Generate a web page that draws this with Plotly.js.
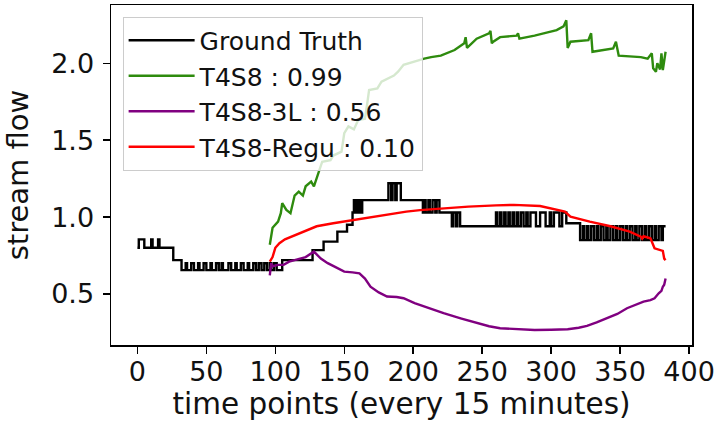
<!DOCTYPE html>
<html>
<head>
<meta charset="utf-8">
<script src="https://cdn.plot.ly/plotly-3.0.1.min.js"></script>
<style>
  html, body { margin: 0; padding: 0; background: #fff; }
  #chart { width: 720px; height: 429px; }
</style>
</head>
<body>
<div id="chart"></div>
<script>
// Observed stream flow (step changes, time index every 15 minutes)
const gtT = [0, 1, 5, 10, 11, 15, 16, 26, 32, 35, 36, 39, 41, 44, 45, 48, 50, 53, 54, 57, 59, 61, 62, 66, 68, 71, 72, 75, 77, 80, 81, 84, 86, 88, 90, 92, 94, 96, 97, 99, 101, 105,
  127, 135, 145, 152, 156, 157, 158, 159, 160, 161, 162, 163, 182, 184, 185, 187, 188, 191,
  207, 208, 209, 211, 212, 214, 216, 217, 219, 228, 229, 231, 232, 234,
  260, 261, 263, 264, 266, 267, 269, 270, 272, 273, 275, 276, 278, 280, 282, 283, 285, 289, 292, 296, 299, 300, 302, 306, 308, 311,
  321, 323, 324, 326, 327, 329, 331, 333, 334, 336, 338, 340, 341, 343, 345, 347, 348, 350, 352, 354, 355, 357, 359, 361, 362, 364, 366, 368, 369, 371, 373, 375, 376, 378, 380, 381, 383];
const gtFlow = [0.80, 0.855, 0.80, 0.855, 0.80, 0.855, 0.80, 0.72, 0.655, 0.70, 0.655, 0.70, 0.655, 0.70, 0.655, 0.70, 0.655, 0.70, 0.655, 0.70, 0.655, 0.70, 0.655, 0.70, 0.655, 0.70, 0.655, 0.70, 0.655, 0.70, 0.655, 0.70, 0.655, 0.70, 0.655, 0.70, 0.655, 0.70, 0.655, 0.70, 0.655, 0.72,
  0.785, 0.84, 0.905, 0.95, 1.03, 1.11, 1.03, 1.11, 1.03, 1.11, 1.03, 1.11, 1.22, 1.11, 1.22, 1.11, 1.22, 1.11,
  1.03, 1.11, 1.03, 1.11, 1.03, 1.11, 1.03, 1.11, 1.03, 0.94, 1.03, 0.94, 1.03, 0.94,
  1.03, 0.94, 1.03, 0.94, 1.03, 0.94, 1.03, 0.94, 1.03, 0.94, 1.03, 0.94, 1.03, 0.94, 1.03, 0.94, 1.03, 0.94, 1.03, 0.94, 1.03, 0.94, 1.03, 0.94, 1.03, 0.96,
  0.85, 0.94, 0.85, 0.94, 0.85, 0.94, 0.85, 0.94, 0.85, 0.94, 0.85, 0.94, 0.85, 0.94, 0.85, 0.94, 0.85, 0.94, 0.85, 0.94, 0.85, 0.94, 0.85, 0.94, 0.85, 0.94, 0.85, 0.94, 0.85, 0.94, 0.85, 0.94, 0.85, 0.94, 0.85, 0.94, 0.94];

// T4S8 prediction
const t4s8T = [96, 98, 102, 104, 105, 108, 111, 114, 117, 120, 122, 126, 128, 131, 132, 134, 140, 142, 148, 150, 153, 157, 160, 165, 167, 168, 174, 177, 186, 189, 193, 198, 203, 208, 213, 220, 230, 237, 238, 239, 246, 255, 256, 257, 258, 263, 275, 276, 277, 288, 304, 309, 311, 312, 314, 327, 329, 330, 345, 347, 349, 365, 370, 373, 374, 376, 377, 379, 380, 381, 383];
const t4s8Flow = [0.82, 0.93, 0.97, 1.025, 1.09, 1.046, 1.025, 1.14, 1.165, 1.14, 1.20, 1.23, 1.20, 1.285, 1.30, 1.36, 1.37, 1.40, 1.425, 1.545, 1.59, 1.57, 1.63, 1.64, 1.76, 1.826, 1.837, 1.88, 1.92, 1.945, 1.99, 2.005, 2.02, 2.03, 2.04, 2.05, 2.086, 2.13, 2.17, 2.10, 2.16, 2.195, 2.21, 2.13, 2.14, 2.17, 2.18, 2.195, 2.16, 2.18, 2.216, 2.24, 2.28, 2.10, 2.14, 2.15, 2.195, 2.075, 2.096, 2.14, 2.05, 2.04, 2.03, 2.065, 1.967, 1.945, 2.0, 1.96, 2.065, 1.956, 2.075];

// T4S8-3L prediction
const t4s83lT = [96, 97, 98, 102, 106, 110, 114, 122, 128, 133, 138, 145, 150, 156, 161, 165, 169, 175, 181, 188, 193, 201, 210, 222, 235, 246, 255, 263, 275, 288, 300, 312, 320, 326, 333, 341, 348, 355, 361, 367, 372, 375, 378, 380, 381, 382, 383];
const t4s83lFlow = [0.62, 0.70, 0.68, 0.689, 0.69, 0.71, 0.72, 0.74, 0.775, 0.73, 0.70, 0.667, 0.645, 0.64, 0.634, 0.60, 0.547, 0.51, 0.483, 0.48, 0.472, 0.44, 0.41, 0.375, 0.34, 0.31, 0.29, 0.277, 0.27, 0.266, 0.267, 0.27, 0.28, 0.292, 0.315, 0.342, 0.37, 0.407, 0.43, 0.45, 0.46, 0.472, 0.504, 0.52, 0.547, 0.56, 0.60];

// T4S8-Regu prediction
const t4s8ReguT = [96, 98, 100, 103, 107, 112, 120, 130, 142, 156, 166, 175, 185, 195, 205, 220, 240, 260, 273, 292, 300, 310, 314, 328, 343, 357, 365, 366, 367, 372, 375, 379, 381, 382, 383];
const t4s8ReguFlow = [0.71, 0.74, 0.80, 0.83, 0.855, 0.873, 0.905, 0.94, 0.96, 0.98, 0.99, 1.005, 1.02, 1.035, 1.045, 1.055, 1.068, 1.076, 1.079, 1.072, 1.057, 1.035, 1.003, 0.97, 0.94, 0.905, 0.873, 0.86, 0.875, 0.862, 0.797, 0.786, 0.78, 0.73, 0.72];

const seriesNames = ['Ground Truth', 'T4S8 : 0.99', 'T4S8-3L : 0.56', 'T4S8-Regu : 0.10'];
const xTicks = [0, 50, 100, 150, 200, 250, 300, 350, 400];
const yTicks = [0.5, 1.0, 1.5, 2.0];

const FONT = 'DejaVu Sans, Verdana, sans-serif';
const LW = 2.4;

const traces = [
  { x: gtT, y: gtFlow, name: seriesNames[0], legendgroup: 'g0', mode: 'lines',
    line: { color: '#000000', width: LW, shape: 'hv' } },
  { x: t4s8T, y: t4s8Flow, name: seriesNames[1], legendgroup: 'g1', mode: 'lines',
    line: { color: '#2e8b0e', width: LW } },
  { x: t4s83lT, y: t4s83lFlow, name: seriesNames[2], legendgroup: 'g2', mode: 'lines',
    line: { color: '#800080', width: LW } },
  { x: t4s8ReguT, y: t4s8ReguFlow, name: seriesNames[3], legendgroup: 'g3', mode: 'lines',
    line: { color: '#ff0000', width: LW } }
];

const axisCommon = {
  showline: true, mirror: true, linecolor: '#000', linewidth: 1.5,
  ticks: 'outside', ticklen: 7, tickwidth: 1.5, tickcolor: '#000',
  showgrid: false, zeroline: false,
  tickfont: { family: FONT, size: 27, color: '#111' }
};

const layout = {
  width: 720, height: 429,
  margin: { l: 111, r: 28, t: 5, b: 84 },
  paper_bgcolor: '#fff', plot_bgcolor: '#fff',
  font: { family: FONT, color: '#111' },
  showlegend: true,
  xaxis: Object.assign({}, axisCommon, {
    range: [-19.15, 402.15], tickmode: 'array', tickvals: xTicks,
    ticklabelstandoff: -5,
    title: { text: 'time points (every 15 minutes)', font: { family: FONT, size: 29.5, color: '#111' }, standoff: 6 },
    automargin: false
  }),
  yaxis: Object.assign({}, axisCommon, {
    range: [0.168, 2.379], tickmode: 'array', tickvals: yTicks, tickformat: '.1f',
    ticklabelstandoff: 3,
    title: { text: 'stream flow', font: { family: FONT, size: 29, color: '#111' }, standoff: 14 },
    automargin: false
  }),
  legend: {
    x: 0.02, y: 0.966, xanchor: 'left', yanchor: 'top',
    bgcolor: 'rgba(255,255,255,0.8)', bordercolor: '#cccccc', borderwidth: 1,
    font: { family: FONT, size: 25, color: '#111' },
    itemwidth: 66,
    tracegroupgap: 10, traceorder: 'normal'
  }
};

Plotly.newPlot('chart', traces, layout, { staticPlot: true, displayModeBar: false });
</script>
</body>
</html>
